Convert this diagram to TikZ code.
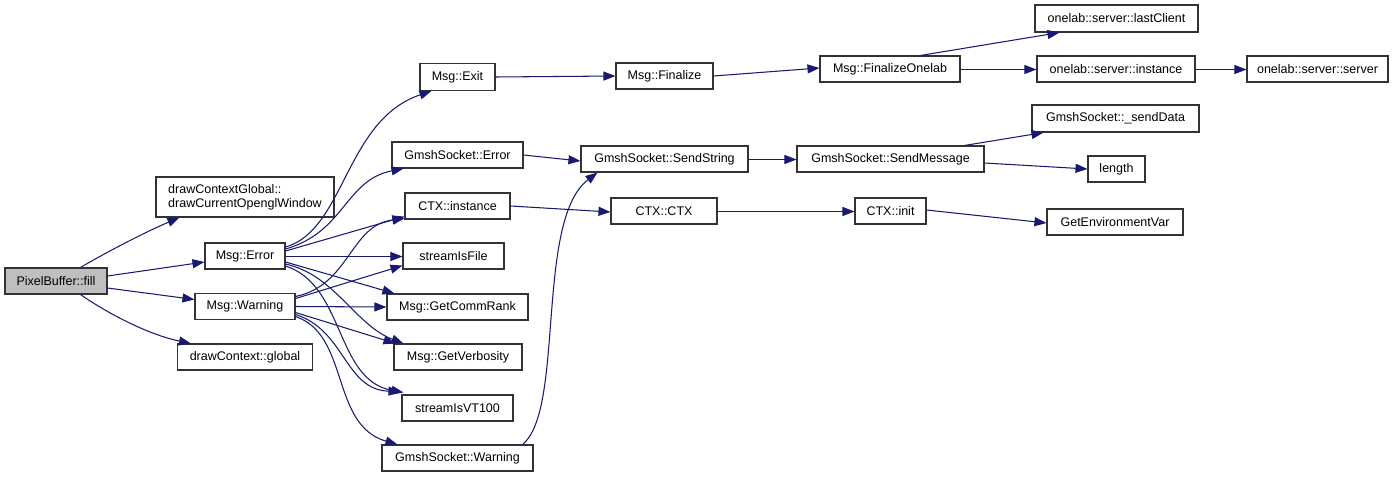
\documentclass[tikz,border=0pt]{standalone}
\usepackage{fontspec}
\setmainfont{Liberation Sans}
\usetikzlibrary{arrows.meta}
\definecolor{edgec}{HTML}{191970}
\definecolor{boxc}{HTML}{333333}
\tikzset{
  box/.style={draw=boxc, line width=1.1pt, rectangle, inner sep=0pt, font=\fontsize{12.5}{14}\selectfont, fill=white},
  e/.style={draw=edgec, line width=1.05pt, -{Triangle[length=12pt,width=9pt]}, fill=none},
}
\newcommand{\bx}[6][]{\node[box,#1,minimum width=#4,minimum height=#5] (#2) at (#3) {#6};}
\begin{document}
\begin{tikzpicture}[x=1pt,y=-1pt]
\useasboundingbox (0,0) rectangle (1396,477);
% nodes
\bx[fill={rgb,255:red,191;green,191;blue,191}]{fill}{56,281}{102}{26}{PixelBuffer::fill}
\bx[align=left]{dcg}{245,197}{178}{40}{drawContextGlobal::\\drawCurrentOpenglWindow}
\bx{err}{245,256}{80}{26}{Msg::Error}
\bx{warn}{245,306.5}{100}{26}{Msg::Warning}
\bx{dcgl}{245,357}{135}{26}{drawContext::global}
\bx{exit}{457.5,77}{75}{27}{Msg::Exit}
\bx{fin}{664.5,76}{97}{26}{Msg::Finalize}
\bx{fon}{890,69}{140}{26}{Msg::FinalizeOnelab}
\bx{last}{1116.5,18.5}{163}{27}{onelab::server::lastClient}
\bx{inst}{1116,69}{158}{26}{onelab::server::instance}
\bx{serv}{1317.5,69}{141}{26}{onelab::server::server}
\bx{gerr}{457.5,155}{131}{26}{GmshSocket::Error}
\bx{sstr}{664.5,159}{167}{26}{GmshSocket::SendString}
\bx{smsg}{890.5,159}{187}{26}{GmshSocket::SendMessage}
\bx{sdat}{1115.5,118.5}{167}{27}{GmshSocket::\_sendData}
\bx{len}{1116.5,169}{57}{26}{length}
\bx{ctxi}{457.5,206}{105}{26}{CTX::instance}
\bx{ctx}{664,211}{106}{26}{CTX::CTX}
\bx{init}{890.5,211}{71}{26}{CTX::init}
\bx{genv}{1115,222}{136}{26}{GetEnvironmentVar}
\bx{sfile}{453.5,256}{101}{26}{streamIsFile}
\bx{rank}{457.5,307}{141}{26}{Msg::GetCommRank}
\bx{verb}{458,357}{128}{26}{Msg::GetVerbosity}
\bx{vt}{457.5,408}{111}{26}{streamIsVT100}
\bx{gwarn}{457.5,458}{151}{26}{GmshSocket::Warning}
% edges from fill
\draw[e] ([xshift=-27]fill.north east) .. controls (110,250) and (150,230) .. ([xshift=24]dcg.south west);
\draw[e] ([yshift=5]fill.east) -- ([yshift=-6]err.west);
\draw[e] ([yshift=-7]fill.east) -- ([yshift=7]warn.west);
\draw[e] ([xshift=-27]fill.south east) .. controls (110,315) and (150,335) .. ([xshift=14]dcgl.north west);
% Msg::Error
\draw[e] ([yshift=9]err.east) .. controls (345,230) and (345,120) .. ([xshift=12]exit.south west);
\draw[e] ([yshift=7]err.east) .. controls (345,232) and (345,180) .. ([xshift=12]gerr.south west);
\draw[e] ([yshift=5]err.east) -- ([yshift=3]ctxi.south west);
\draw[e] ([yshift=-0.5]err.east) -- ([yshift=-0.5]sfile.west);
\draw[e] ([yshift=-6]err.east) -- ([xshift=8]rank.north west);
\draw[e] ([yshift=-8]err.east) .. controls (335,275) and (355,325) .. ([xshift=10]verb.north west);
\draw[e] ([yshift=-10]err.east) .. controls (345,285) and (335,380) .. ([xshift=2,yshift=2]vt.north west);
% Msg::Warning
\draw[e] ([yshift=10]warn.east) .. controls (350,285) and (350,225) .. ([yshift=1]ctxi.south west);
\draw[e] ([yshift=8]warn.east) -- ([yshift=4]sfile.south west);
\draw[e] (warn.east) -- (rank.west);
\draw[e] ([yshift=-6]warn.east) -- ([xshift=2]verb.north west);
\draw[e] ([yshift=-8]warn.east) .. controls (345,330) and (345,390) .. ([xshift=-1,yshift=3]vt.north west);
\draw[e] ([yshift=-10]warn.east) .. controls (350,335) and (330,425) .. ([xshift=16]gwarn.north west);
% top chain
\draw[e] (exit.east) -- (fin.west);
\draw[e] (fin.east) -- ([yshift=1]fon.west);
\draw[e] ([xshift=-40]fon.north east) -- ([xshift=25]last.south west);
\draw[e] ([yshift=-0.5]fon.east) -- ([yshift=-0.5]inst.west);
\draw[e] ([yshift=-0.5]inst.east) -- ([yshift=-0.5]serv.west);
% socket chain
\draw[e] (gerr.east) -- ([yshift=-2]sstr.west);
\draw[e] ([yshift=-0.5]sstr.east) -- ([yshift=-0.5]smsg.west);
\draw[e] ([xshift=-20]smsg.north east) -- ([xshift=12]sdat.south west);
\draw[e] ([yshift=-4]smsg.east) -- (len.west);
\draw[e] ([xshift=-11]gwarn.north east) .. controls (565,410) and (535,220) .. ([xshift=17]sstr.south west);
% CTX chain
\draw[e] (ctxi.east) -- ([yshift=-1]ctx.west);
\draw[e] ([yshift=-0.5]ctx.east) -- ([yshift=-0.5]init.west);
\draw[e] ([yshift=1]init.east) -- ([yshift=-1]genv.west);
\end{tikzpicture}
\end{document}
